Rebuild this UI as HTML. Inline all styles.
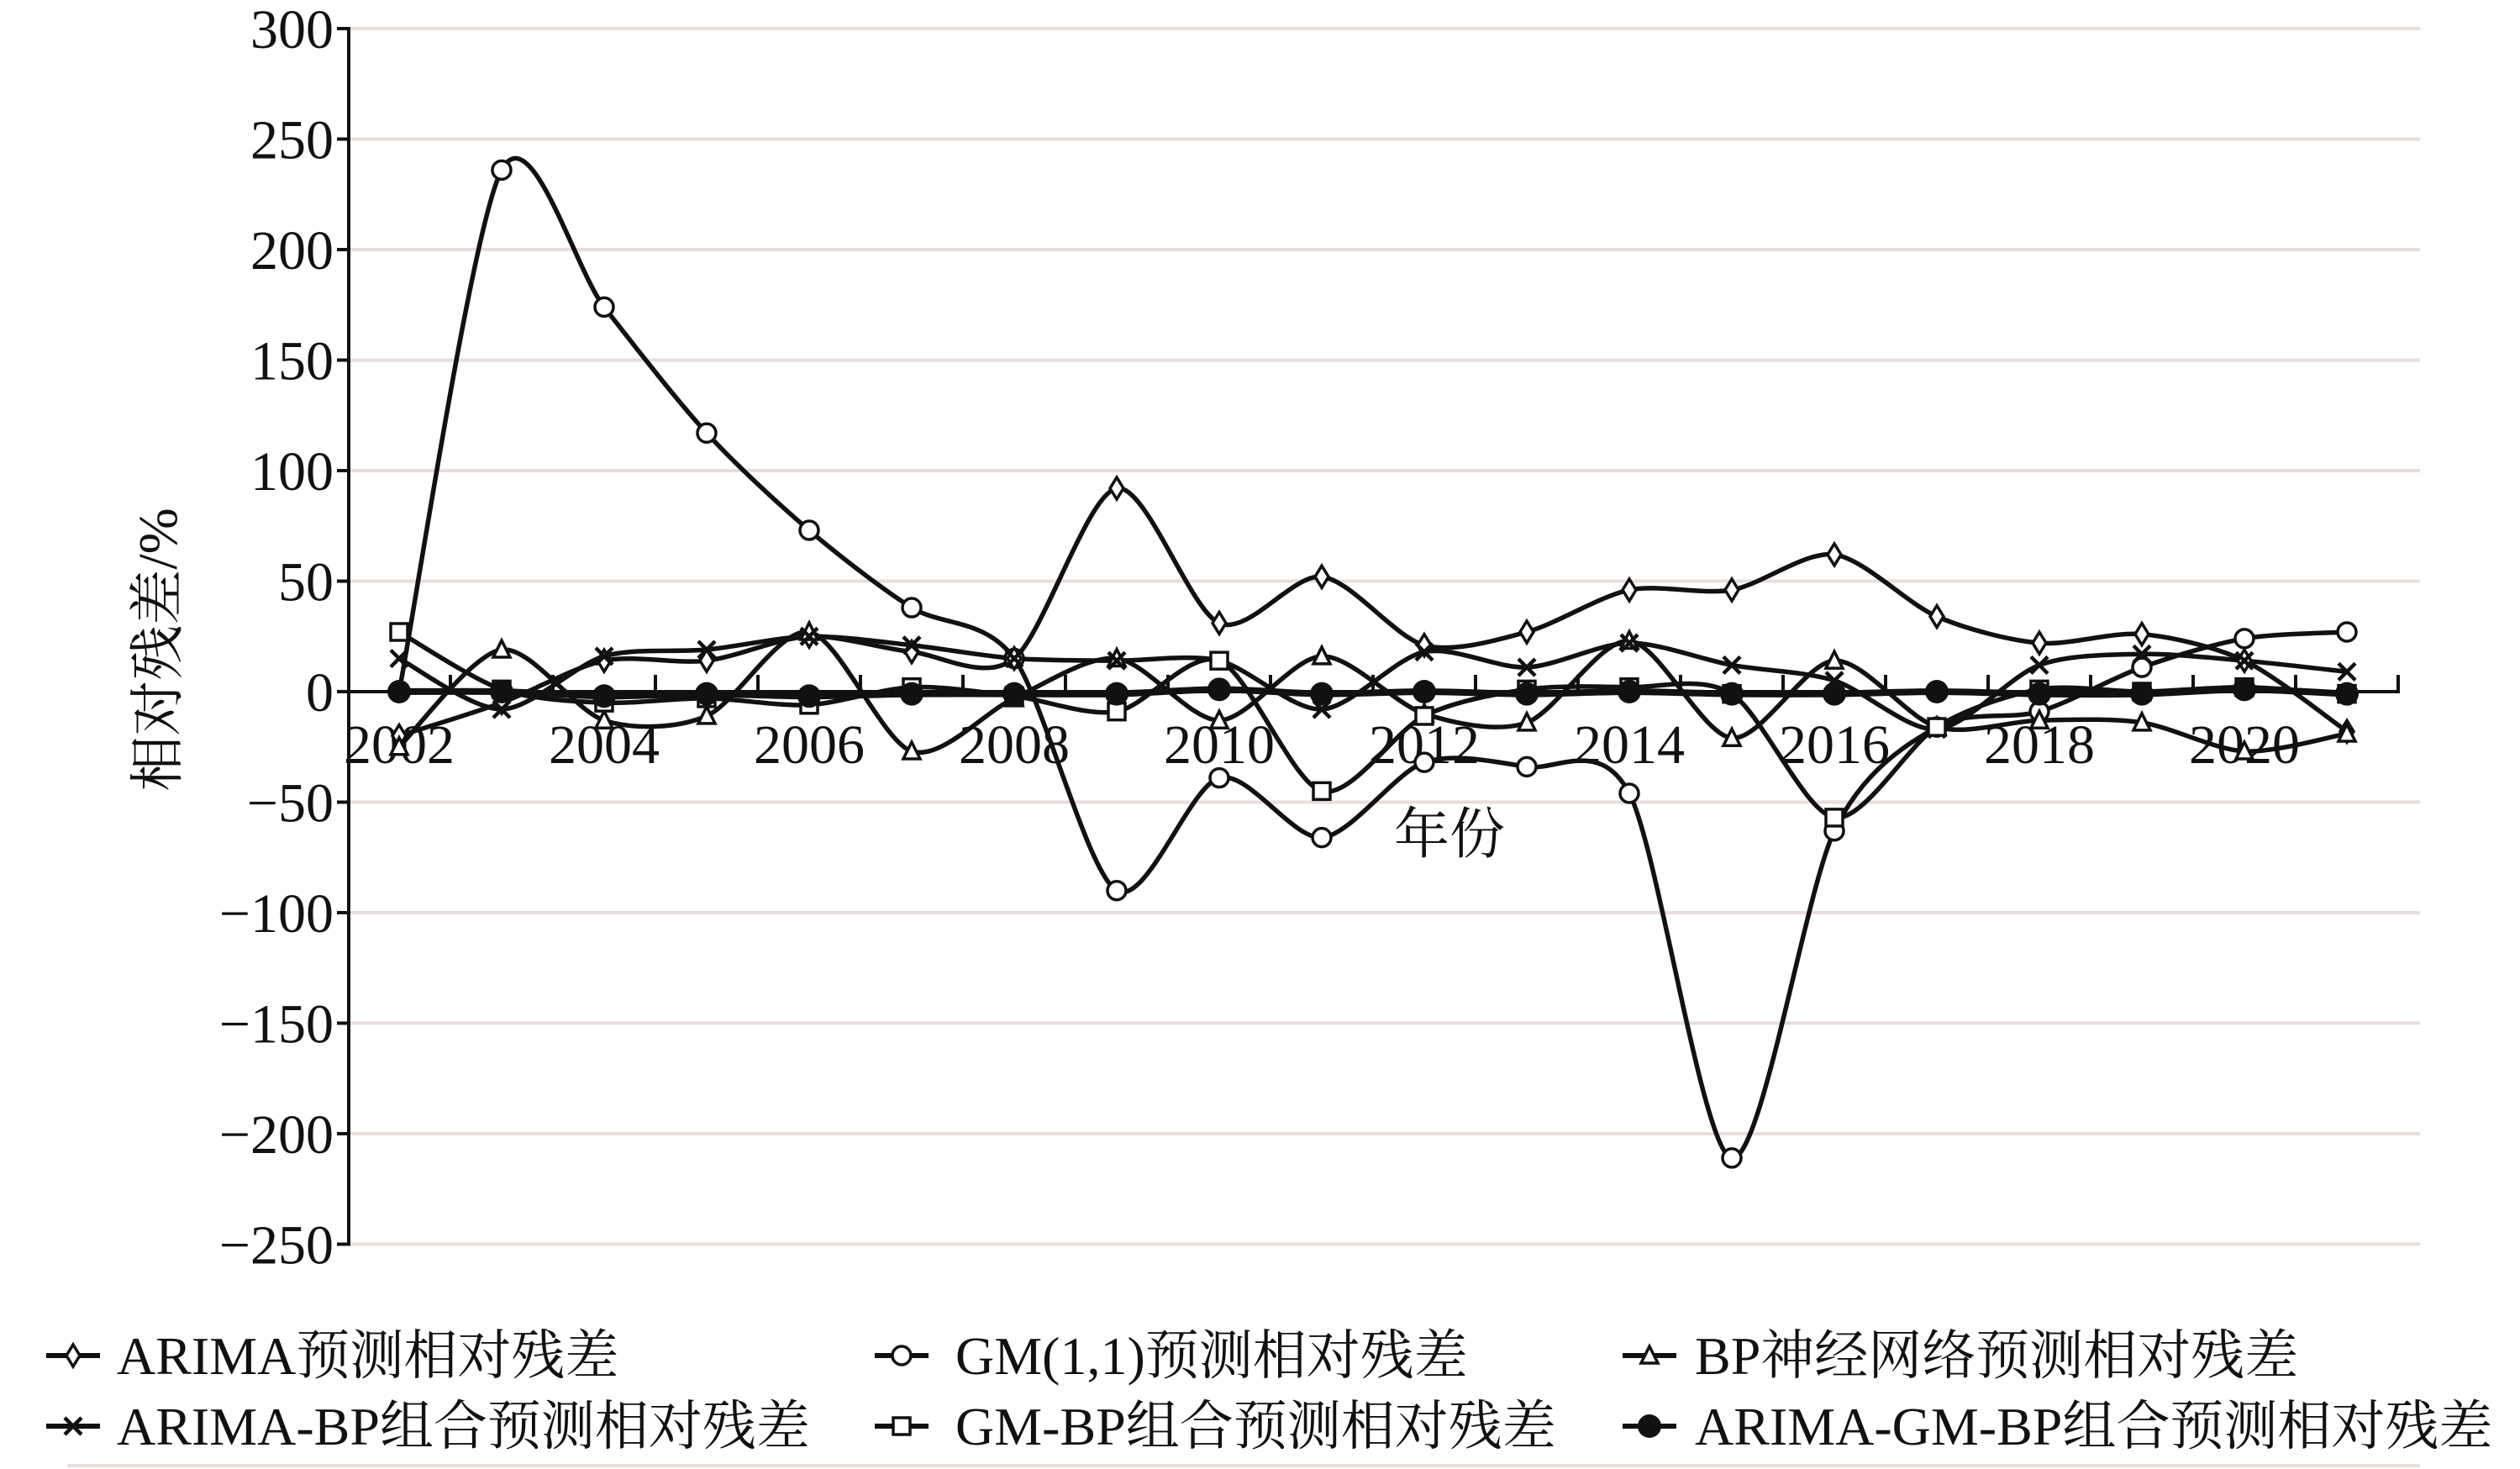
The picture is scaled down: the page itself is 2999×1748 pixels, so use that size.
<!DOCTYPE html>
<html><head><meta charset="utf-8"><style>
html,body{margin:0;padding:0;background:#fff;}
svg{display:block;}
text{font-family:"Liberation Serif","Noto Serif CJK SC",serif;fill:#111;}
</style></head><body>
<svg id="s" width="2999" height="1748" viewBox="0 0 2999 1748" xmlns="http://www.w3.org/2000/svg">
<g id="grid" stroke="#e6dedb" stroke-width="4"></g>
<g id="axes" stroke="#111" stroke-width="4" fill="none"></g>
<g id="labels" font-size="66"></g>
<g id="series"></g>
<text x="1725" y="1015" font-size="66" text-anchor="middle">年份</text>
<text transform="translate(210,773) rotate(-90)" font-size="66" text-anchor="middle">相对残差/%</text>
<g id="legend" font-size="64"></g>
<line x1="80" y1="1744" x2="2880" y2="1744" stroke="#e6dedb" stroke-width="4"/>
</svg>
<script>
var NS="http://www.w3.org/2000/svg";
function el(p,t,a,txt){var e=document.createElementNS(NS,t);for(var k in a)e.setAttribute(k,a[k]);if(txt!==undefined)e.textContent=txt;document.getElementById(p).appendChild(e);return e;}
var X0=415,X1=2856,Y=function(v){return 823-2.63*v;},XY=function(i){return 475+122*i;};
for(var v=300;v>=-250;v-=50){var y=Y(v);
 if(v!==0)el("grid","line",{x1:X0,y1:y,x2:2880,y2:y});
 el("axes","line",{x1:X0-14,y1:y,x2:X0,y2:y});
 el("labels","text",{x:X0-18,y:y+23,"text-anchor":"end"},(v<0?"\u2212":"")+Math.abs(v));}
el("axes","line",{x1:X0,y1:Y(300)-2,x2:X0,y2:Y(-250)+2});
el("axes","line",{x1:X0,y1:823,x2:X1,y2:823});
for(var i=0;i<=20;i++){var x=XY(i)-61; if(x>X0) el("axes","line",{x1:x,y1:823,x2:x,y2:803});}
for(var i=0;i<20;i+=2) el("labels","text",{x:XY(i),y:908,"text-anchor":"middle"},String(2002+i));
var S={
arima:[-20,-5,14,14,25,18,15,92,31,52,21,27,46,46,62,34,22,26,14,-18],
gm:[0,236,174,117,73,38,15,-90,-39,-66,-32,-34,-46,-211,-63,-16,-9,11,24,27],
bp:[-25,19,-13,-11,27,-27,-3,15,-13,16,-10,-14,23,-21,14,-16,-13,-14,-27,-19],
ab:[15,-8,16,19,25,21,15,14,14,-8,18,11,22,12,5,-17,12,17,14,9],
gb:[27,1,-5,-3,-6,2,-2,-9,14,-45,-11,1,2,-1,-57,-16,1,0,2,-1],
agb:[0,0,-2,-1,-2,-1,-1,-1,1,-1,0,-1,0,-1,-1,0,-1,-1,1,-1]};
function path(d){var p=d.map(function(v,i){return [XY(i),Y(v)];});var s="M"+p[0][0]+","+p[0][1];var k=7;
 for(var i=0;i<p.length-1;i++){var a=p[i-1]||p[i],b=p[i],c=p[i+1],e=p[i+2]||c;
  s+=" C"+(b[0]+(c[0]-a[0])/k)+","+(b[1]+(c[1]-a[1])/k)+" "+(c[0]-(e[0]-b[0])/k)+","+(c[1]-(e[1]-b[1])/k)+" "+c[0]+","+c[1];}return s;}
function marker(g,type,x,y){var r=10;
 if(type=="d")el(g,"path",{d:"M"+x+","+(y-r-3)+"L"+(x+r-2)+","+y+"L"+x+","+(y+r+3)+"L"+(x-r+2)+","+y+"Z",fill:"#fff",stroke:"#111","stroke-width":3.5});
 if(type=="o")el(g,"circle",{cx:x,cy:y,r:r+1,fill:"#fff",stroke:"#111","stroke-width":3.5});
 if(type=="t")el(g,"path",{d:"M"+x+","+(y-r-1)+"L"+(x+r)+","+(y+r-1)+"L"+(x-r)+","+(y+r-1)+"Z",fill:"#fff",stroke:"#111","stroke-width":3.5});
 if(type=="x")el(g,"path",{d:"M"+(x-r)+","+(y-r)+"L"+(x+r)+","+(y+r)+"M"+(x+r)+","+(y-r)+"L"+(x-r)+","+(y+r),stroke:"#111","stroke-width":4.5,fill:"none"});
 if(type=="s")el(g,"rect",{x:x-r,y:y-r,width:2*r,height:2*r,fill:"#fff",stroke:"#111","stroke-width":3.5});
 if(type=="f")el(g,"circle",{cx:x,cy:y,r:r+4,fill:"#111"});}
var order=[["gm","o"],["arima","d"],["bp","t"],["ab","x"],["gb","s"],["agb","f"]];
order.forEach(function(o){el("series","path",{d:path(S[o[0]]),fill:"none",stroke:"#111","stroke-width":o[0]=="agb"?8:5.5});});
order.forEach(function(o){S[o[0]].forEach(function(v,i){marker("series",o[1],XY(i),Y(v));});});
var L=[["ARIMA预测相对残差","d",87,139,1613],["GM(1,1)预测相对残差","o",1073,1137,1613],["BP神经网络预测相对残差","t",1963,2017,1613],
["ARIMA-BP组合预测相对残差","x",87,139,1697],["GM-BP组合预测相对残差","s",1073,1137,1697],["ARIMA-GM-BP组合预测相对残差","f",1963,2017,1697]];
L.forEach(function(l){el("legend","line",{x1:l[2]-32,y1:l[4],x2:l[2]+32,y2:l[4],stroke:"#111","stroke-width":6});
 marker("legend",l[1],l[2],l[4]);el("legend","text",{x:l[3],y:l[4]+22},l[0]);});
</script>
</body></html>
